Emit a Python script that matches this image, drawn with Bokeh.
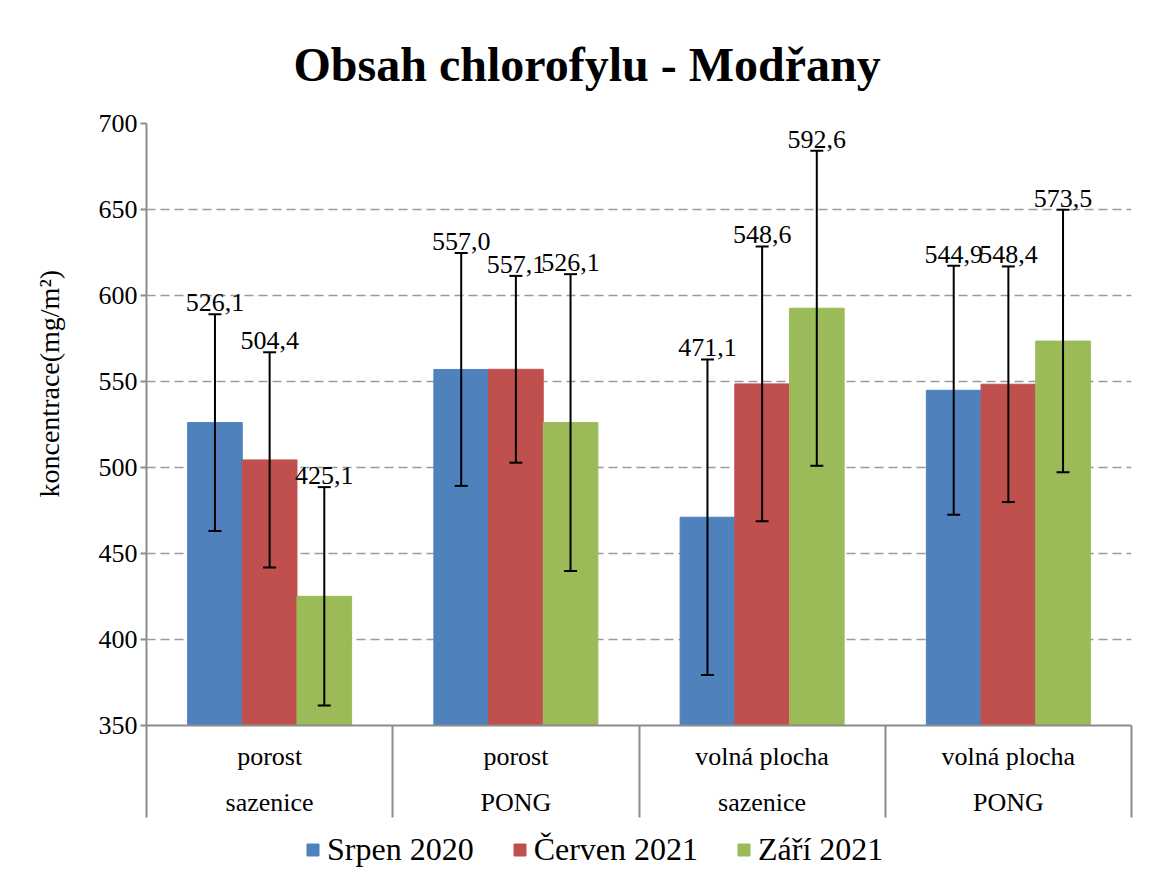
from bokeh.plotting import figure
from bokeh.layouts import column
from bokeh.models import (ColumnDataSource, Range1d, FixedTicker, Whisker, TeeHead,
                          LabelSet, Legend, LegendItem, Title)
from bokeh.core.properties import value
from bokeh.embed import file_html
from bokeh.resources import INLINE

# ---------------- data ----------------
title_text = "Obsah chlorofylu - Modřany"
y_label = "koncentrace(mg/m²)"
cat_line1 = ["porost", "porost", "volná plocha", "volná plocha"]
cat_line2 = ["sazenice", "PONG", "sazenice", "PONG"]
series_names = ["Srpen 2020", "Červen 2021", "Září 2021"]
srpen = [526.1, 557.0, 471.1, 544.9]
cerven = [504.4, 557.1, 548.6, 548.4]
zari = [425.1, 526.1, 592.6, 573.5]
srpen_err = [63.0, 67.7, 91.7, 72.4]
cerven_err = [62.6, 54.3, 79.9, 68.5]
zari_err = [63.5, 86.3, 91.6, 76.3]
y_ticks = [350, 400, 450, 500, 550, 600, 650, 700]
colors = ["#4F81BD", "#C0504D", "#9BBB59"]

FONT = "Liberation Serif"
GRAY = "#8c8c8c"
W = 1135
H_MAIN, H_LEG = 832, 36

p = figure(width=W, height=H_MAIN, output_backend="svg", toolbar_location=None,
           x_range=Range1d(0, len(cat_line1)), y_range=Range1d(y_ticks[0], y_ticks[-1]),
           min_border_left=145, min_border_right=4, min_border_top=123,
           min_border_bottom=107)
p.outline_line_color = None
p.background_fill_color = "white"
p.border_fill_color = "white"

# title
p.title.text = title_text
p.title.text_font = FONT
p.title.text_font_style = "bold"
p.title.text_font_size = "48px"
p.title.text_color = "black"
p.title.align = "left"
p.title.offset = 147
p.title.standoff = 65

bar_w = 0.222
offsets = [-bar_w, 0.0, bar_w]
series_vals = [srpen, cerven, zari]
series_errs = [srpen_err, cerven_err, zari_err]
for i in range(3):
    vals = series_vals[i]
    errs = series_errs[i]
    xs = [k + 0.5 + offsets[i] for k in range(len(vals))]
    src = ColumnDataSource(dict(
        x=xs, top=vals,
        upper=[v + e for v, e in zip(vals, errs)],
        lower=[v - e for v, e in zip(vals, errs)],
        label=[f"{v:.1f}".replace(".", ",") for v in vals],
    ))
    p.vbar(x="x", top="top", bottom=y_ticks[0], width=bar_w, source=src,
           fill_color=colors[i], line_color=colors[i], line_width=1)
    w = Whisker(source=src, base="x", upper="upper", lower="lower",
                line_color="black", line_width=2, level="overlay",
                upper_head=TeeHead(size=13, line_width=2, line_color="black"),
                lower_head=TeeHead(size=13, line_width=2, line_color="black"))
    p.add_layout(w)
    lbl = LabelSet(x="x", y="upper", text="label", source=src,
                   text_align="center", text_baseline="bottom", y_offset=3,
                   text_font=value(FONT), text_font_size="26px", text_color="black")
    p.add_layout(lbl)

# y axis
p.yaxis.ticker = FixedTicker(ticks=y_ticks)
p.yaxis.major_label_text_font = FONT
p.yaxis.major_label_text_font_size = "26px"
p.yaxis.major_label_text_color = "black"
p.yaxis.major_label_standoff = 3
p.yaxis.major_tick_out = 6
p.yaxis.major_tick_in = 0
p.yaxis.minor_tick_line_color = None
p.yaxis.axis_line_color = GRAY
p.yaxis.axis_line_width = 2
p.yaxis.major_tick_line_color = GRAY
p.yaxis.major_tick_line_width = 2

# y axis title (left-side title, shifted upward like the reference)
ytitle = Title(text=y_label, text_font=FONT, text_font_style="normal",
               text_font_size="28px", text_color="black", align="left",
               offset=228, standoff=62)
p.add_layout(ytitle, "left")

# x axis (two-line category labels, separators as minor ticks)
n = len(cat_line1)
centers = [k + 0.5 for k in range(n)]
p.xaxis.ticker = FixedTicker(ticks=centers, minor_ticks=list(range(n + 1)))
p.xaxis.major_label_overrides = {c: f"{a}\n{b}" for c, a, b in zip(centers, cat_line1, cat_line2)}
p.xaxis.major_tick_out = 0
p.xaxis.major_tick_in = 0
p.xaxis.minor_tick_out = 92
p.xaxis.minor_tick_in = 0
p.xaxis.minor_tick_line_color = GRAY
p.xaxis.minor_tick_line_width = 2
p.xaxis.axis_line_color = GRAY
p.xaxis.axis_line_width = 2
p.xaxis.major_label_text_font = FONT
p.xaxis.major_label_text_font_size = "26px"
p.xaxis.major_label_text_color = "black"
p.xaxis.major_label_text_line_height = 1.6
p.xaxis.major_label_standoff = -76

# grid
p.xgrid.visible = False
p.ygrid.grid_line_color = "#9a9a9a"
p.ygrid.grid_line_width = 1.5
p.ygrid.grid_line_dash = "9 5"

# legend strip (separate small figure so the legend is not clipped)
lg = figure(width=W, height=H_LEG, output_backend="svg", toolbar_location=None,
            x_range=Range1d(0, W), y_range=Range1d(0, H_LEG),
            min_border=0, min_border_left=0, min_border_right=0,
            min_border_top=0, min_border_bottom=0)
lg.axis.visible = False
lg.grid.visible = False
lg.outline_line_color = None
lg.background_fill_color = "white"
lg.border_fill_color = "white"
items = []
for i in range(3):
    # legend proxy glyph, kept outside the visible range of the strip
    r = lg.vbar(x=[-100], top=[-100], bottom=-101, width=1,
                fill_color=colors[i], line_color=colors[i])
    items.append(LegendItem(label=series_names[i], renderers=[r]))
legend = Legend(items=items, orientation="horizontal", location=(159, 0),
                label_text_font=FONT, label_text_font_size="32px",
                label_text_color="black",
                glyph_width=15, glyph_height=15, label_standoff=7, spacing=38,
                padding=0, margin=0, border_line_color=None,
                background_fill_alpha=0)
lg.add_layout(legend, "center")

layout = column(p, lg, spacing=0)
open("out.html", "w").write(file_html(layout, INLINE))
